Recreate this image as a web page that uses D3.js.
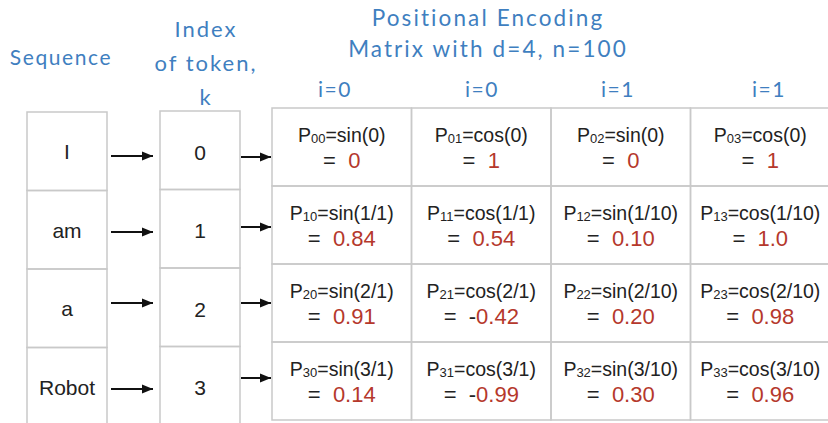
<!DOCTYPE html>
<html><head><meta charset="utf-8">
<script src="https://cdn.jsdelivr.net/npm/d3@7"></script>
<style>
html,body{margin:0;padding:0;background:#fff;}
svg{display:block;}
text{white-space:pre;}
</style></head>
<body>
<svg id="c" width="828" height="423"></svg>
<script>
// ---- data ----
const tokens = ["I", "am", "a", "Robot"];
const positions = [0, 1, 2, 3];
const colLabels = ["i=0", "i=0", "i=1", "i=1"];
const funcs = ["sin", "cos", "sin", "cos"];
const denoms = ["1", "1", "10", "10"];
const values = [
  ["0", "1", "0", "1"],
  ["0.84", "0.54", "0.10", "1.0"],
  ["0.91", "-0.42", "0.20", "0.98"],
  ["0.14", "-0.99", "0.30", "0.96"]
];
const titleSeq = ["Sequence"];
const titleIdx = ["Index", "of token,", "k"];
const titleMat = ["Positional Encoding", "Matrix with d=4, n=100"];

// ---- layout ----
const svg = d3.select("#c");
const blue = "#3f7fc0", grid = "#c9c9c9", red = "#b5382c", ink = "#222";
const hand = "Lato, 'Noto Sans', sans-serif";
const sans = "'Liberation Sans', Arial, Helvetica, sans-serif";

const ySeq = d3.scaleBand().domain(positions).range([112, 426]);
const yIdx = d3.scaleBand().domain(positions).range([111, 425]);
const yMat = d3.scaleBand().domain(positions).range([108, 420]);
const xMat = d3.scaleBand().domain(d3.range(4)).range([272, 830]);
const seqX = [27, 107], idxX = [160, 240];

// defs arrowhead
svg.append("defs").append("marker")
  .attr("id", "ah").attr("viewBox", "0 0 10 10").attr("refX", 10).attr("refY", 5)
  .attr("markerWidth", 6).attr("markerHeight", 5.5).attr("markerUnits", "strokeWidth")
  .attr("orient", "auto")
  .append("path").attr("d", "M0,1 L10,5 L0,9 Z").attr("fill", "#111");

// sequence boxes
svg.append("g").selectAll("rect").data(tokens).join("rect")
  .attr("x", seqX[0]).attr("y", (d, i) => ySeq(i))
  .attr("width", seqX[1] - seqX[0]).attr("height", ySeq.bandwidth())
  .attr("fill", "none").attr("stroke", grid).attr("stroke-width", 1.5);
svg.append("g").selectAll("text").data(tokens).join("text")
  .attr("x", (seqX[0] + seqX[1]) / 2).attr("y", (d, i) => ySeq(i) + 47)
  .attr("text-anchor", "middle").attr("font-family", sans).attr("font-size", 21)
  .attr("fill", ink).text(d => d);

// index boxes
svg.append("g").selectAll("rect").data(positions).join("rect")
  .attr("x", idxX[0]).attr("y", d => yIdx(d))
  .attr("width", idxX[1] - idxX[0]).attr("height", yIdx.bandwidth())
  .attr("fill", "none").attr("stroke", grid).attr("stroke-width", 1.5);
svg.append("g").selectAll("text").data(positions).join("text")
  .attr("x", (idxX[0] + idxX[1]) / 2).attr("y", d => yIdx(d) + 48.5)
  .attr("text-anchor", "middle").attr("font-family", sans).attr("font-size", 21)
  .attr("fill", ink).text(d => d);

// arrows
const arrowY1 = [156, 232, 303, 389];
const arrowY2 = [157, 227, 303, 378];
const ag = svg.append("g").attr("stroke", "#111").attr("stroke-width", 2);
ag.selectAll("line.a1").data(positions).join("line").attr("class", "a1")
  .attr("x1", 111).attr("x2", 153).attr("y1", d => arrowY1[d]).attr("y2", d => arrowY1[d])
  .attr("marker-end", "url(#ah)");
ag.selectAll("line.a2").data(positions).join("line").attr("class", "a2")
  .attr("x1", 241).attr("x2", 271).attr("y1", d => arrowY2[d]).attr("y2", d => arrowY2[d])
  .attr("marker-end", "url(#ah)");

// matrix cells
const cells = [];
positions.forEach(r => d3.range(4).forEach(c => cells.push({r, c})));
svg.append("g").selectAll("rect").data(cells).join("rect")
  .attr("x", d => xMat(d.c)).attr("y", d => yMat(d.r))
  .attr("width", xMat.bandwidth()).attr("height", yMat.bandwidth())
  .attr("fill", "none").attr("stroke", grid).attr("stroke-width", 1.5);

const cg = svg.append("g").selectAll("g").data(cells).join("g")
  .attr("transform", d => `translate(${xMat(d.c) + xMat.bandwidth() / 2},${yMat(d.r)})`);
const l1 = cg.append("text").attr("y", 34).attr("text-anchor", "middle")
  .attr("font-family", sans).attr("font-size", 19.5).attr("fill", ink);
l1.append("tspan").text("P");
l1.append("tspan").attr("font-size", 13).attr("dy", 1).text(d => `${d.r}${d.c}`);
l1.append("tspan").attr("dy", -1)
  .text(d => `=${funcs[d.c]}(${d.r === 0 ? "0" : d.r + "/" + denoms[d.c]})`);

const l2 = cg.append("text").attr("y", 60).attr("text-anchor", "middle")
  .attr("font-family", sans).attr("font-size", 22).attr("fill", ink);
l2.append("tspan").text(d => values[d.r][d.c].startsWith("-") ? "=  -" : "=  ");
l2.append("tspan").attr("fill", red).text(d => values[d.r][d.c].replace("-", ""));

// column labels
const colLabelX = [335, 482, 618, 769];
svg.append("g").selectAll("text").data(colLabels).join("text")
  .attr("x", (d, i) => colLabelX[i]).attr("y", 97).attr("text-anchor", "middle")
  .attr("font-family", hand).attr("font-size", 21).attr("letter-spacing", 1.5)
  .attr("fill", blue).text(d => d);

// titles
svg.append("text").attr("x", 61).attr("y", 65).attr("text-anchor", "middle")
  .attr("font-family", hand).attr("font-size", 21).attr("letter-spacing", 1.6)
  .attr("fill", blue).text(titleSeq[0]);
svg.append("g").selectAll("text").data(titleIdx).join("text")
  .attr("x", 206).attr("y", (d, i) => 37 + i * 34).attr("text-anchor", "middle")
  .attr("font-family", hand).attr("font-size", 22).attr("letter-spacing", 2)
  .attr("fill", blue).text(d => d);
svg.append("g").selectAll("text").data(titleMat).join("text")
  .attr("x", 488).attr("y", (d, i) => 26 + i * 31).attr("text-anchor", "middle")
  .attr("font-family", hand).attr("font-size", 22.5).attr("letter-spacing", 2.1)
  .attr("fill", blue).text(d => d);
</script>
</body></html>
